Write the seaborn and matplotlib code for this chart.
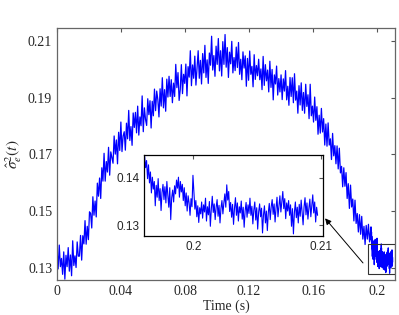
import numpy as np
import matplotlib
matplotlib.use("Agg")
import matplotlib.pyplot as plt
import matplotlib.patches as patches
import seaborn as sns

# estimated error variance (0 .. 0.1953 s)
t_main = np.linspace(0, 0.1953, 280)
sigma_main = [
    0.1368, 0.1297, 0.1381, 0.1305, 0.1334, 0.1278, 0.1357, 0.1261, 0.1345, 0.1305,
    0.1372, 0.1289, 0.1346, 0.1273, 0.1396, 0.1309, 0.1343, 0.1302, 0.1392, 0.1342,
    0.1342, 0.1415, 0.1328, 0.1414, 0.1385, 0.1467, 0.1384, 0.1447, 0.1400, 0.1498,
    0.1492, 0.1441, 0.1551, 0.1486, 0.1536, 0.1480, 0.1599, 0.1553, 0.1617, 0.1545,
    0.1653, 0.1606, 0.1704, 0.1606, 0.1675, 0.1638, 0.1725, 0.1627, 0.1709, 0.1688,
    0.1669, 0.1765, 0.1701, 0.1751, 0.1667, 0.1778, 0.1714, 0.1814, 0.1710, 0.1765,
    0.1780, 0.1715, 0.1810, 0.1755, 0.1855, 0.1749, 0.1798, 0.1732, 0.1846, 0.1795,
    0.1848, 0.1776, 0.1870, 0.1768, 0.1832, 0.1801, 0.1906, 0.1780, 0.1864, 0.1823,
    0.1802, 0.1896, 0.1840, 0.1889, 0.1793, 0.1887, 0.1836, 0.1930, 0.1854, 0.1923,
    0.1893, 0.1832, 0.1931, 0.1870, 0.1970, 0.1864, 0.1928, 0.1852, 0.1965, 0.1902,
    0.1975, 0.1904, 0.1963, 0.1882, 0.1951, 0.1904, 0.2017, 0.1935, 0.1988, 0.1890,
    0.1928, 0.2016, 0.1914, 0.1982, 0.1950, 0.2018, 0.1906, 0.2009, 0.1972, 0.2065,
    0.1942, 0.2015, 0.1968, 0.2046, 0.1944, 0.2007, 0.2065, 0.1968, 0.2031, 0.1948,
    0.2055, 0.1987, 0.2084, 0.1971, 0.2033, 0.1950, 0.2057, 0.2014, 0.2116, 0.1997,
    0.2048, 0.1975, 0.2081, 0.2017, 0.2108, 0.1994, 0.2065, 0.1976, 0.2097, 0.2017,
    0.2122, 0.2007, 0.2076, 0.1971, 0.2060, 0.2019, 0.2098, 0.1987, 0.2041, 0.1995,
    0.2078, 0.2006, 0.2094, 0.1982, 0.2035, 0.1963, 0.2061, 0.2004, 0.2047, 0.1940,
    0.2038, 0.1961, 0.2064, 0.1982, 0.2010, 0.1938, 0.2051, 0.1964, 0.2013, 0.1977,
    0.2035, 0.1963, 0.2001, 0.1928, 0.2045, 0.1943, 0.2016, 0.1959, 0.1997, 0.1920,
    0.2028, 0.1936, 0.1999, 0.1892, 0.1980, 0.1948, 0.2011, 0.1909, 0.1967, 0.1920,
    0.1980, 0.1893, 0.1966, 0.1923, 0.1995, 0.1892, 0.1940, 0.1873, 0.1971, 0.1904,
    0.1970, 0.1882, 0.1984, 0.1891, 0.1923, 0.1845, 0.1942, 0.1874, 0.1952, 0.1855,
    0.1918, 0.1845, 0.1947, 0.1869, 0.1910, 0.1826, 0.1947, 0.1836, 0.1870, 0.1814,
    0.1902, 0.1820, 0.1868, 0.1771, 0.1838, 0.1775, 0.1862, 0.1779, 0.1826, 0.1733,
    0.1807, 0.1729, 0.1811, 0.1733, 0.1755, 0.1682, 0.1774, 0.1695, 0.1731, 0.1667,
    0.1730, 0.1649, 0.1722, 0.1635, 0.1658, 0.1586, 0.1653, 0.1588, 0.1636, 0.1545,
    0.1597, 0.1510, 0.1592, 0.1515, 0.1543, 0.1466, 0.1539, 0.1457, 0.1492, 0.1427,
    0.1488, 0.1419, 0.1482, 0.1402, 0.1447, 0.1383, 0.1450, 0.1402, 0.1454, 0.1392,
]

# tail of the trace, finer sampling (what the zoom inset shows)
t_tail = np.linspace(0.1962, 0.2097, 180)
sigma_tail = [
    0.1445, 0.1421, 0.1436, 0.1398, 0.1427, 0.1389, 0.1412, 0.1368, 0.1401, 0.1376,
    0.1392, 0.1341, 0.1384, 0.1359, 0.1398, 0.1352, 0.1377, 0.1331, 0.1369, 0.1386,
    0.1354, 0.1381, 0.1347, 0.1392, 0.1363, 0.1338, 0.1379, 0.1312, 0.1358, 0.1374,
    0.1349, 0.1383, 0.1366, 0.1395, 0.1378, 0.1401, 0.1359, 0.1392, 0.1370, 0.1386,
    0.1352, 0.1379, 0.1341, 0.1368, 0.1330, 0.1362, 0.1347, 0.1321, 0.1356, 0.1339,
    0.1405, 0.1368, 0.1334, 0.1352, 0.1318, 0.1341, 0.1306, 0.1337, 0.1324, 0.1349,
    0.1315, 0.1343, 0.1328, 0.1357, 0.1309, 0.1339, 0.1322, 0.1350, 0.1298, 0.1334,
    0.1361, 0.1327, 0.1345, 0.1312, 0.1338, 0.1354, 0.1319, 0.1342, 0.1305, 0.1336,
    0.1352, 0.1324, 0.1347, 0.1366, 0.1338, 0.1385, 0.1353, 0.1371, 0.1329, 0.1348,
    0.1317, 0.1344, 0.1302, 0.1336, 0.1358, 0.1321, 0.1347, 0.1309, 0.1339, 0.1326,
    0.1351, 0.1313, 0.1338, 0.1296, 0.1330, 0.1348, 0.1317, 0.1343, 0.1325, 0.1357,
    0.1321, 0.1340, 0.1303, 0.1332, 0.1349, 0.1311, 0.1337, 0.1292, 0.1328, 0.1345,
    0.1318, 0.1336, 0.1284, 0.1322, 0.1341, 0.1305, 0.1330, 0.1289, 0.1327, 0.1346,
    0.1312, 0.1339, 0.1354, 0.1323, 0.1345, 0.1307, 0.1336, 0.1359, 0.1318, 0.1341,
    0.1362, 0.1328, 0.1349, 0.1371, 0.1335, 0.1356, 0.1314, 0.1347, 0.1330, 0.1352,
    0.1321, 0.1343, 0.1298, 0.1335, 0.1282, 0.1327, 0.1349, 0.1316, 0.1338, 0.1305,
    0.1344, 0.1319, 0.1353, 0.1327, 0.1301, 0.1339, 0.1358, 0.1322, 0.1347, 0.1313,
    0.1336, 0.1355, 0.1318, 0.1342, 0.1364, 0.1326, 0.1349, 0.1307, 0.1338, 0.1321,
]

x_ticks = [0, 0.04, 0.08, 0.12, 0.16, 0.2]
x_ticklabels = ["0", "0.04", "0.08", "0.12", "0.16", "0.2"]
y_ticks = [0.13, 0.15, 0.17, 0.19, 0.21]
inset_xticks = [0.2, 0.21]
inset_xticklabels = ["0.2", "0.21"]
inset_yticks = [0.13, 0.14]

sns.set_style("white")
plt.rcParams["mathtext.fontset"] = "stix"
plt.rcParams["font.family"] = ["Liberation Serif", "DejaVu Serif"]

t_all = np.concatenate([t_main, t_tail])
s_all = np.concatenate([sigma_main, sigma_tail])

fig = plt.figure(figsize=(3.99, 3.15), dpi=100)
ax = fig.add_axes([0.1429, 0.1111, 0.8471, 0.8])

sns.lineplot(x=t_all, y=s_all, ax=ax, color="#0000ff", linewidth=0.9,
             estimator=None, sort=False)
ax.set_xlim(0, 0.2112)
ax.set_ylim(0.1258, 0.2145)
ax.set_xticks(x_ticks)
ax.set_xticklabels(x_ticklabels)
ax.set_yticks(y_ticks)
ax.tick_params(direction="in", length=3, width=0.8, top=True, right=True,
               labelsize=10, pad=3.5, color="#555555",
               labelfontfamily="Liberation Serif")
for sp in ax.spines.values():
    sp.set_color("#666666")
    sp.set_linewidth(0.9)
ax.set_xlabel("Time (s)", fontsize=10, labelpad=1)
ax.set_ylabel(r"$\hat{\sigma}_e^2(t)$", fontsize=11, labelpad=3)

# zoom box on the tail
ax.add_patch(patches.Rectangle((0.1946, 0.1279), 0.0164, 0.0105, fill=False,
                               edgecolor="#333333", linewidth=0.8, zorder=5))
ax.annotate("", xy=(0.1675, 0.1475), xytext=(0.1912, 0.1318),
            arrowprops=dict(arrowstyle="-|>", color="black", lw=0.7,
                            mutation_scale=9, shrinkA=0, shrinkB=0),
            annotation_clip=False)

# inset
axi = fig.add_axes([0.3609, 0.2508, 0.4479, 0.2571])
axi.set_facecolor("white")
sns.lineplot(x=t_tail, y=sigma_tail, ax=axi, color="#0000ff", linewidth=0.8,
             estimator=None, sort=False)
axi.set_xlim(0.19615, 0.2101)
axi.set_ylim(0.12776, 0.14476)
axi.set_xticks(inset_xticks)
axi.set_xticklabels(inset_xticklabels)
axi.set_yticks(inset_yticks)
axi.tick_params(direction="in", length=3, width=0.8, top=True, right=True,
                labelsize=8.5, pad=3.5, color="#555555",
                labelfontfamily="Liberation Sans")
for sp in axi.spines.values():
    sp.set_color("black")
    sp.set_linewidth(0.9)

fig.savefig("out.png", dpi=100)
